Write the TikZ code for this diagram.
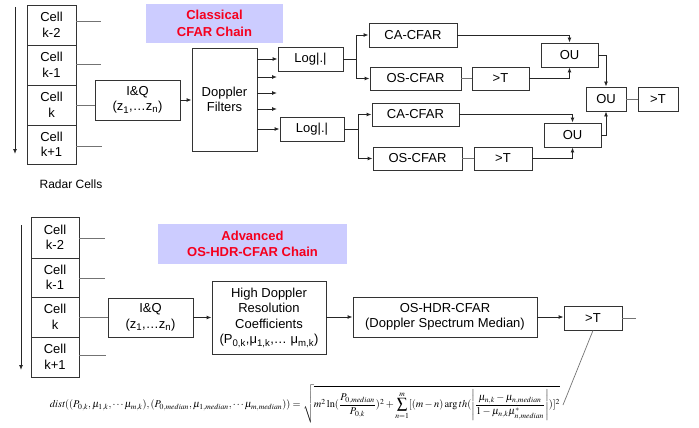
\documentclass[tikz,border=0pt]{standalone}
\usepackage{graphicx}
\usepackage{mathptmx}
\usepackage[no-math]{fontspec}
\setmainfont{Liberation Sans}
\usetikzlibrary{arrows.meta}
\definecolor{lav}{HTML}{CCCCFF}
\definecolor{lblred}{HTML}{F5001E}
\begin{document}
\begin{tikzpicture}[x=1pt,y=-1pt,
  box/.style={draw=black!80,line width=0.9pt,fill=white,align=center,inner sep=0pt,font=\fontsize{13}{15.5}\selectfont},
  lab/.style={fill=lav,align=center,inner sep=0pt,font=\fontsize{13}{16.5}\selectfont\bfseries,text=lblred},
  arr/.style={-{Latex[length=5pt,width=4pt]},line width=0.9pt,black!85},
  ln/.style={line width=0.9pt,black!85},
  gl/.style={line width=0.9pt,black!55}]
\useasboundingbox (0,0) rectangle (699,428);

% ---------------- Classical chain ----------------
\node[lab,minimum width=137pt,minimum height=39pt] (lab1) at (214.5,23.5) {Classical\\CFAR Chain};

\node[box,minimum width=49pt,minimum height=40pt] (c1) at (51.5,25) {Cell\\k-2};
\node[box,minimum width=49pt,minimum height=40pt] (c2) at (51.5,65) {Cell\\k-1};
\node[box,minimum width=49pt,minimum height=40pt] (c3) at (51.5,105) {Cell\\k};
\node[box,minimum width=49pt,minimum height=39pt] (c4) at (51.5,144.5) {Cell\\k+1};
\node[font=\fontsize{12}{14}\selectfont] (rc) at (71,184) {Radar Cells};

\coordinate (va) at (15,7);
\coordinate (vb) at (15,154);
\draw[arr] (va) -- (vb);

\coordinate (l1) at (101,21);
\coordinate (l2) at (101,64);
\coordinate (l4) at (102,146);
\draw[gl] (c1.east |- l1) -- (l1);
\draw[gl] (c2.east |- l2) -- (l2);
\draw[gl] (c4.east |- l4) -- (l4);

\node[box,minimum width=85pt,minimum height=40pt] (iq1) at (137.5,100) {I\&Q\\(z\textsubscript{1},…z\textsubscript{n})};
\draw[gl] (c3.east) -- (c3.east -| iq1.west);

\node[box,minimum width=65pt,minimum height=103pt] (dop) at (224.5,99.5) {Doppler\\Filters};
\draw[arr] (iq1.east) -- (iq1.east -| dop.west);

\node[box,minimum width=65pt,minimum height=24pt] (log1) at (310.5,59) {Log|.|};
\node[box,minimum width=64pt,minimum height=24pt] (log2) at (312,129) {Log|.|};

\coordinate (d2) at (277,77);
\coordinate (d3) at (277,93);
\coordinate (d4) at (277,109);
\draw[arr] (dop.east |- log1) -- (log1.west);
\draw[arr] (dop.east |- d2) -- (d2);
\draw[arr] (dop.east |- d3) -- (d3);
\draw[arr] (dop.east |- d4) -- (d4);
\draw[arr] (dop.east |- log2) -- (log2.west);

\node[box,minimum width=88pt,minimum height=24pt] (ca1) at (413,35) {CA-CFAR};
\node[box,minimum width=91pt,minimum height=23pt] (os1) at (415.5,78.5) {OS-CFAR};
\node[box,minimum width=57pt,minimum height=23pt] (t1) at (500.5,78.5) {>T};
\node[box,minimum width=57pt,minimum height=24pt] (ou1) at (569.5,55) {OU};

\node[box,minimum width=87pt,minimum height=23pt] (ca2) at (415.5,114.5) {CA-CFAR};
\node[box,minimum width=89pt,minimum height=23pt] (os2) at (417.5,158.5) {OS-CFAR};
\node[box,minimum width=58pt,minimum height=23pt] (t2) at (503,158.5) {>T};
\node[box,minimum width=57pt,minimum height=24pt] (ou2) at (572.5,135) {OU};

\node[box,minimum width=40pt,minimum height=24pt] (ou3) at (606,99) {OU};
\node[box,minimum width=40pt,minimum height=24pt] (t3) at (658,99) {>T};

\coordinate (s1) at (356,59);
\coordinate (s2) at (358,129);
\draw[ln] (log1.east) -- (s1);
\draw[arr] (s1) |- (ca1.west);
\draw[arr] (s1) |- (os1.west);
\draw[ln] (log2.east) -- (s2);
\draw[arr] (s2) |- (ca2.west);
\draw[arr] (s2) |- (os2.west);

\draw[gl] (os1) -- (t1);
\draw[gl] (os2) -- (t2);
\draw[arr] (ca1.east) -| (ou1.north);
\draw[arr] (t1.east) -| (ou1.south);
\draw[arr] (ca2.east) -| (ou2.north);
\draw[arr] (t2.east) -| (ou2.south);
\draw[arr] (ou1.east) -| (ou3.north);
\draw[arr] (ou2.east) -| (ou3.south);
\draw[gl] (ou3) -- (t3);

% ---------------- Advanced chain ----------------
\node[lab,minimum width=189pt,minimum height=40pt] (lab2) at (252.5,244) {Advanced\\OS-HDR-CFAR Chain};

\node[box,minimum width=48pt,minimum height=41pt] (b1) at (55,237.5) {Cell\\k-2};
\node[box,minimum width=48pt,minimum height=39pt] (b2) at (55,277.5) {Cell\\k-1};
\node[box,minimum width=48pt,minimum height=40pt] (b3) at (55,317) {Cell\\k};
\node[box,minimum width=48pt,minimum height=40pt] (b4) at (55,357) {Cell\\k+1};

\coordinate (wa) at (21,225);
\coordinate (wb) at (21,370);
\draw[arr] (wa) -- (wb);

\coordinate (m1) at (105,238);
\coordinate (m2) at (105,278);
\coordinate (m4) at (106,355);
\draw[gl] (b1.east |- m1) -- (m1);
\draw[gl] (b2.east |- m2) -- (m2);
\draw[gl] (b4.east |- m4) -- (m4);

\node[box,minimum width=85pt,minimum height=39pt] (iq2) at (150.5,317.5) {I\&Q\\(z\textsubscript{1},…z\textsubscript{n})};
\draw[gl] (b3.east) -- (b3.east -| iq2.west);

\node[box,minimum width=114pt,minimum height=73pt] (hdr) at (269,317.5) {High Doppler\\Resolution\\Coefficients\\(P\textsubscript{0,k},μ\textsubscript{1,k},… μ\textsubscript{m,k})};
\draw[arr] (iq2.east) -- (iq2.east -| hdr.west);

\node[box,minimum width=184pt,minimum height=40pt] (oshdr) at (445,317) {OS-HDR-CFAR\\(Doppler Spectrum Median)};
\draw[arr] (hdr.east |- oshdr) -- (oshdr.west);

\node[box,minimum width=58pt,minimum height=24pt] (t4) at (593,318) {>T};
\draw[arr] (oshdr.east) -- (oshdr.east -| t4.west);
\coordinate (tout) at (636,318);
\draw[gl] (t4.east) -- (tout);

\node[inner sep=0pt] (form) at (305,404) {\resizebox{510pt}{!}{$\displaystyle \mathbf{\mathit{dist}}((P_{0,k},\mu_{1,k},\cdots\mu_{m,k}),(P_{0,median},\mu_{1,median},\cdots\mu_{m,median}))=\sqrt{m^2\ln(\frac{P_{0,median}}{P_{0,k}})^2+\sum_{n=1}^{m}[(m-n)\arg th(\left|\frac{\mu_{n,k}-\mu_{n,median}}{1-\mu_{n,k}\mu^{*}_{n,median}}\right|)]^2}$}};

\coordinate (fe) at (563,405);
\draw[gl,line width=0.7pt] (t4.south) -- (fe);
\end{tikzpicture}
\end{document}
